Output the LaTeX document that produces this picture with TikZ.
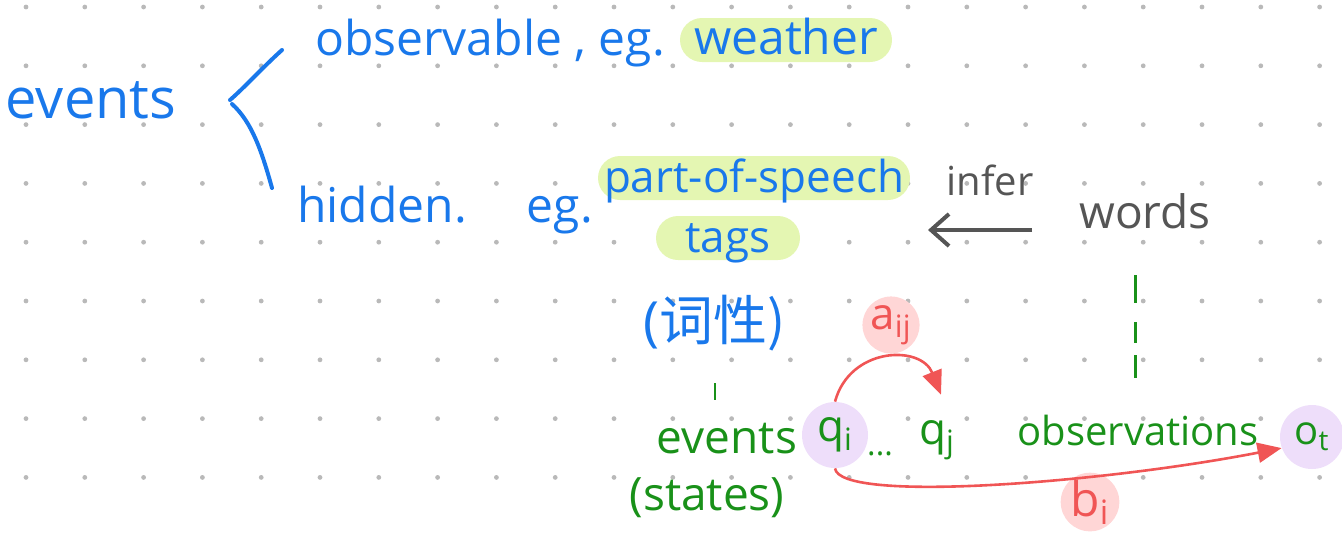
\documentclass[tikz,border=0pt]{standalone}
\usepackage{fontspec}
\setmainfont{Open Sans}
\newfontfamily\cjkfont{Noto Sans CJK SC}
\usetikzlibrary{arrows.meta,positioning,calc}
\definecolor{inkblue}{RGB}{25,120,235}
\definecolor{inkgreen}{RGB}{25,145,25}
\definecolor{inkgray}{RGB}{85,85,85}
\definecolor{inkred}{RGB}{240,85,85}
\definecolor{hlyellow}{RGB}{228,246,178}
\definecolor{hlpurple}{RGB}{238,222,250}
\definecolor{hlpink}{RGB}{255,214,214}
\definecolor{dotgray}{RGB}{185,185,185}
\newcommand{\penfont}[1]{\fontsize{#1}{#1}\selectfont}
\tikzset{ink/.style={inner sep=0pt,text height=14pt,text depth=0pt},blueink/.style={ink,text=inkblue},greenink/.style={ink,text=inkgreen},grayink/.style={ink,text=inkgray},pill/.style={blueink,fill=hlyellow,rounded corners=11pt,minimum height=22pt},bubble/.style={greenink,circle,fill=hlpurple,text height=,text depth=},redbubble/.style={ink,text=inkred,circle,fill=hlpink,text height=,text depth=},penline/.style={line width=2pt,line cap=round},redarrow/.style={draw=inkred,line width=1.3pt,-{Triangle[length=12pt,width=10pt]}}}

\begin{document}
\begin{tikzpicture}[x=0.5pt,y=-0.5pt]
\useasboundingbox (0,0) rectangle (1342,532);
\foreach \i in {0,...,22}
  \foreach \j in {0,...,8}
    \fill[dotgray] ({26+58.8*\i},{7+58.8*\j}) circle (1.2pt);
\node[blueink,font=\penfont{28pt}] (events) at (91,104) {events};
\node[blueink,font=\penfont{24pt}] (observable) at (490,41) {observable , eg.};
\node[pill,font=\penfont{24pt},minimum width=106pt] (weather) at (786,40) {weather};
\node[blueink,font=\penfont{24pt}] (hidden) at (445,208) {hidden.\hspace{30pt}eg.};
\node[pill,font=\penfont{22pt},minimum width=156pt] (pos) at (754,178) {part-of-speech};
\node[pill,font=\penfont{22pt},minimum width=72pt] (tags) at (728,238) {tags};
\node[grayink,font=\penfont{20pt}] (infer) at (990,181) {infer};
\node[grayink,font=\penfont{23pt}] (words) at (1145,214) {words};
\node[blueink,font=\penfont{27pt}] (cixing) at (715,326) {(\cjkfont 词性)};
\node[greenink,font=\penfont{23pt}] (evstates) at (727,439) {events};
\node[greenink,font=\penfont{23pt}] (states) at (707,496) {(states)};
\node[bubble,font=\penfont{22pt},minimum size=33pt] (qi) at (835,435) {q\textsubscript{i}};
\node[greenink,font=\penfont{16pt}] (dots) at (880,441) {...};
\node[greenink,font=\penfont{22pt}] (qj) at (937,430) {q\textsubscript{j}};
\node[greenink,font=\penfont{20pt}] (observations) at (1138,431) {observations};
\node[bubble,font=\penfont{20pt},minimum size=32pt] (ot) at (1312,437) {o\textsubscript{t}};
\node[redbubble,font=\penfont{22pt},minimum size=28pt] (aij) at (891,325) {a\textsubscript{ij}};
\node[redbubble,font=\penfont{24pt},minimum size=29pt] (bi) at (1090,502) {b\textsubscript{i}};
\coordinate (inferR) at (1032,230);
\coordinate (inferL) at (928,230);
\draw[penline,inkblue] (282,50) .. controls (262,68) and (246,86) .. (230,100);
\draw[penline,inkblue] (232,104) .. controls (252,122) and (262,152) .. (272,188);
\draw[line width=2pt,inkgray,-{Straight Barb[length=9pt,width=16pt]}] (inferR) -- (inferL);
\draw[line width=1.5pt,inkgreen,dash pattern=on 14pt off 9.5pt on 10.5pt off 6pt on 11.5pt off 10pt,shorten <=23.5pt,shorten >=19.5pt] ([xshift=-5pt]words.south) -- ([xshift=-5pt]words.south |- observations.north);
\draw[line width=1.2pt,inkgreen,shorten <=21.5pt,shorten >=12.5pt] (cixing.south) -- (cixing.south |- evstates.north);
\draw[redarrow] (qi.north) .. controls +(15,-55) and +(-20,-50) .. ([xshift=2pt,yshift=10.5pt]qj.north);
\draw[redarrow] (qi.south) .. controls +(5,35) and +(-180,35) .. (ot.200);
\end{tikzpicture}
\end{document}
